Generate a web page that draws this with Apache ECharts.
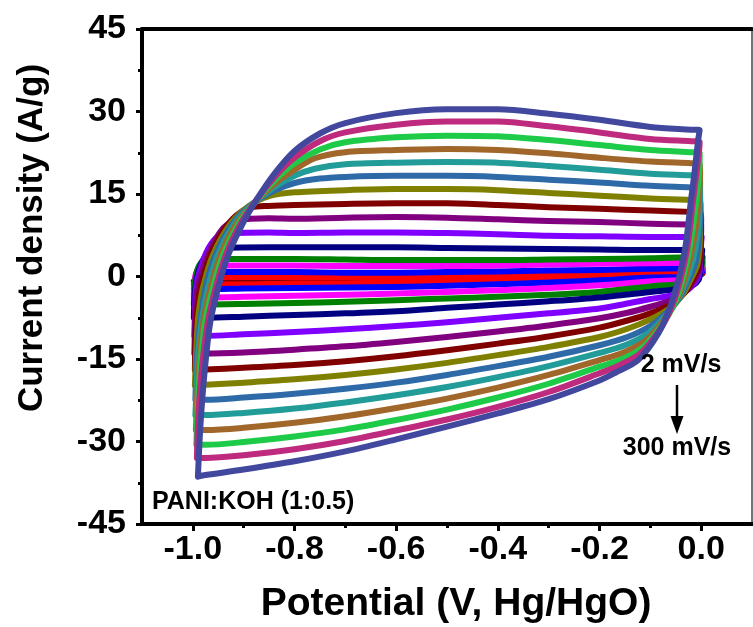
<!DOCTYPE html>
<html><head><meta charset="utf-8">
<script src="https://cdn.jsdelivr.net/npm/echarts@6/dist/echarts.min.js"></script>
<style>html,body{margin:0;padding:0;background:#fff}#c{width:753px;height:627px}</style>
</head><body><div id="c"></div>
<script>
// scan rates (mV/s), inner loop first
const scanRates = [2,5,10,20,30,50,75,100,125,150,175,200,225,250,275,300];
const xTicks = [-1.0,-0.8,-0.6,-0.4,-0.2,0.0];
const xMinorTicks = [-0.9,-0.7,-0.5,-0.3,-0.1];
const yTicks = [-45,-30,-15,0,15,30,45];

// each loop: [potential V, current density A/g]; anodic sweep then cathodic sweep
const loop2 = [[-0.998,-0.9],[-0.99,-0.6],[-0.9,-0.5],[-0.8,-0.5],[-0.7,-0.6],[-0.6,-0.6],[-0.5,-0.5],[-0.4,-0.3],[-0.3,0.0],[-0.2,0.2],[-0.1,0.4],[-0.02,0.6],[0.003,0.6],
  [0.0,0.4],[-0.1,0.3],[-0.2,0.0],[-0.3,-0.2],[-0.4,-0.4],[-0.5,-0.6],[-0.6,-0.7],[-0.7,-0.8],[-0.8,-0.8],[-0.9,-0.9],[-0.998,-0.9]];
const loop5 = [[-0.998,-1.4],[-0.995,-0.6],[-0.985,-0.2],[-0.9,-0.2],[-0.8,-0.2],[-0.7,-0.2],[-0.6,-0.2],[-0.5,-0.1],[-0.4,0.0],[-0.3,0.3],[-0.2,0.5],[-0.1,0.7],[-0.02,0.9],[0.003,0.9],
  [0.002,0.5],[-0.01,0.2],[-0.1,0.2],[-0.2,-0.2],[-0.3,-0.5],[-0.4,-0.8],[-0.5,-1.0],[-0.6,-1.2],[-0.7,-1.3],[-0.8,-1.3],[-0.9,-1.4],[-0.998,-1.4]];
const loop10 = [[-0.998,-2.3],[-0.996,-0.8],[-0.99,0.4],[-0.97,0.8],[-0.9,0.8],[-0.8,0.8],[-0.7,0.7],[-0.6,0.7],[-0.5,0.8],[-0.4,0.9],[-0.3,1.1],[-0.2,1.2],[-0.1,1.4],[-0.02,1.5],[0.003,1.5],
  [0.002,0.9],[-0.004,0.2],[-0.015,-0.1],[-0.1,-0.2],[-0.2,-0.7],[-0.3,-1.1],[-0.4,-1.4],[-0.5,-1.7],[-0.6,-1.9],[-0.7,-2.0],[-0.8,-2.1],[-0.9,-2.2],[-0.975,-2.3],[-0.998,-2.3]];
const loop20 = [[-0.998,-3.8],[-0.997,-1.5],[-0.994,0.5],[-0.985,1.6],[-0.96,2.0],[-0.9,2.0],[-0.8,2.0],[-0.7,1.9],[-0.6,1.9],[-0.5,1.9],[-0.4,2.0],[-0.3,2.2],[-0.2,2.3],[-0.1,2.4],[-0.02,2.5],[0.003,2.5],
  [0.002,1.6],[-0.002,0.6],[-0.008,-0.2],[-0.03,-0.6],[-0.1,-0.9],[-0.2,-1.6],[-0.3,-2.1],[-0.4,-2.5],[-0.5,-2.8],[-0.6,-3.1],[-0.7,-3.3],[-0.8,-3.5],[-0.9,-3.7],[-0.975,-3.8],[-0.998,-3.8]];
const loop30 = [[-0.998,-5.1],[-0.997,-2.5],[-0.995,-0.5],[-0.99,1.5],[-0.98,2.8],[-0.96,3.2],[-0.9,3.2],[-0.8,3.2],[-0.7,3.1],[-0.6,3.0],[-0.5,3.0],[-0.4,3.0],[-0.3,3.1],[-0.2,3.2],[-0.1,3.3],[-0.02,3.5],[0.003,3.5],
  [0.002,2.5],[0.0,1.2],[-0.004,0.0],[-0.01,-0.8],[-0.03,-1.3],[-0.1,-1.8],[-0.2,-2.8],[-0.3,-3.3],[-0.4,-3.7],[-0.5,-4.0],[-0.6,-4.3],[-0.7,-4.6],[-0.8,-4.8],[-0.9,-5.0],[-0.975,-5.1],[-0.998,-5.1]];
const loop50 = [[-0.998,-7.5],[-0.997,-4.5],[-0.995,-2.0],[-0.99,0.5],[-0.98,3.0],[-0.965,4.6],[-0.94,5.2],[-0.85,5.3],[-0.7,5.3],[-0.6,5.3],[-0.5,5.2],[-0.4,5.1],[-0.3,5.0],[-0.2,4.9],[-0.1,4.8],[-0.02,4.8],[0.002,4.8],
  [0.001,3.8],[0.0,2.2],[-0.002,0.6],[-0.005,-0.6],[-0.015,-1.5],[-0.04,-2.2],[-0.1,-2.8],[-0.2,-3.8],[-0.3,-4.5],[-0.4,-5.1],[-0.5,-5.7],[-0.6,-6.3],[-0.7,-6.7],[-0.8,-7.0],[-0.9,-7.3],[-0.975,-7.5],[-0.998,-7.5]];
const loop75 = [[-0.997,-10.8],[-0.996,-7.0],[-0.995,-4.0],[-0.993,-1.5],[-0.985,1.5],[-0.97,5.0],[-0.95,7.3],[-0.92,7.9],[-0.85,8.0],[-0.8,7.9],[-0.7,8.0],[-0.6,8.0],[-0.5,7.9],[-0.4,7.7],[-0.3,7.4],[-0.2,7.3],[-0.1,7.2],[-0.02,7.2],[0.001,7.2],
  [0.0,6.2],[-0.001,4.0],[-0.002,2.0],[-0.004,0.4],[-0.01,-0.8],[-0.025,-2.3],[-0.05,-3.3],[-0.1,-4.1],[-0.15,-5.0],[-0.2,-5.8],[-0.3,-6.7],[-0.4,-7.5],[-0.5,-8.3],[-0.6,-9.0],[-0.7,-9.6],[-0.8,-10.1],[-0.9,-10.5],[-0.975,-10.8],[-0.997,-10.8]];
const loop100 = [[-0.997,-14.0],[-0.996,-10.0],[-0.995,-6.0],[-0.992,-3.0],[-0.988,-1.0],[-0.97,4.0],[-0.94,8.8],[-0.91,10.3],[-0.85,10.6],[-0.8,10.5],[-0.7,10.7],[-0.6,10.8],[-0.5,10.7],[-0.4,10.4],[-0.3,10.1],[-0.2,9.9],[-0.1,9.6],[-0.02,9.45],[0.0,9.4],
  [0.0,8.5],[-0.001,6.0],[-0.002,3.5],[-0.005,1.0],[-0.013,-0.6],[-0.03,-2.7],[-0.055,-4.2],[-0.1,-5.5],[-0.145,-6.6],[-0.2,-7.6],[-0.3,-8.9],[-0.4,-10.0],[-0.5,-11.0],[-0.6,-11.9],[-0.7,-12.7],[-0.8,-13.3],[-0.9,-13.8],[-0.975,-14.0],[-0.997,-14.0]];
const loop125 = [[-0.996,-17.0],[-0.995,-12.0],[-0.993,-8.0],[-0.99,-5.0],[-0.985,-2.0],[-0.965,4.0],[-0.93,9.6],[-0.895,12.3],[-0.86,12.8],[-0.8,13.0],[-0.7,13.2],[-0.6,13.3],[-0.5,13.3],[-0.4,13.0],[-0.3,12.6],[-0.2,12.3],[-0.1,12.0],[-0.02,11.75],[-0.001,11.7],
  [0.0,10.5],[-0.001,7.5],[-0.002,4.5],[-0.006,1.5],[-0.017,-0.6],[-0.034,-3.1],[-0.058,-5.0],[-0.1,-6.7],[-0.145,-8.0],[-0.2,-9.3],[-0.3,-10.9],[-0.4,-12.2],[-0.5,-13.4],[-0.6,-14.5],[-0.7,-15.4],[-0.8,-16.1],[-0.9,-16.6],[-0.975,-16.9],[-0.996,-17.0]];
const loop150 = [[-0.996,-19.8],[-0.994,-15.0],[-0.992,-11.0],[-0.989,-7.0],[-0.98,-2.0],[-0.96,4.0],[-0.926,9.6],[-0.89,12.8],[-0.85,14.6],[-0.8,15.3],[-0.7,15.7],[-0.6,15.9],[-0.5,15.9],[-0.4,15.7],[-0.3,15.2],[-0.2,14.7],[-0.1,14.2],[-0.02,13.95],[-0.002,13.9],
  [-0.001,12.5],[-0.002,9.0],[-0.003,5.5],[-0.008,2.0],[-0.021,-0.6],[-0.038,-3.5],[-0.062,-5.8],[-0.1,-7.8],[-0.145,-9.5],[-0.2,-11.0],[-0.3,-12.8],[-0.4,-14.3],[-0.5,-15.7],[-0.6,-16.9],[-0.7,-17.9],[-0.8,-18.7],[-0.9,-19.3],[-0.975,-19.7],[-0.996,-19.8]];
const loop175 = [[-0.995,-22.4],[-0.993,-17.0],[-0.99,-12.5],[-0.986,-8.5],[-0.975,-2.0],[-0.955,4.0],[-0.922,9.6],[-0.888,12.8],[-0.84,15.6],[-0.8,17.0],[-0.75,17.8],[-0.7,18.1],[-0.6,18.3],[-0.5,18.3],[-0.4,18.1],[-0.3,17.6],[-0.2,17.1],[-0.1,16.5],[-0.02,16.2],[-0.003,16.1],
  [-0.002,15.0],[-0.002,11.0],[-0.004,7.0],[-0.011,2.5],[-0.025,-0.6],[-0.042,-3.8],[-0.066,-6.4],[-0.1,-9.0],[-0.145,-11.0],[-0.2,-12.5],[-0.3,-14.6],[-0.4,-16.3],[-0.5,-17.9],[-0.6,-19.3],[-0.7,-20.4],[-0.8,-21.3],[-0.9,-22.0],[-0.975,-22.4],[-0.995,-22.4]];
const loop200 = [[-0.995,-25.2],[-0.992,-19.0],[-0.989,-14.0],[-0.983,-8.5],[-0.97,-2.0],[-0.95,4.0],[-0.918,9.6],[-0.885,12.9],[-0.84,16.2],[-0.8,18.3],[-0.76,19.6],[-0.7,20.4],[-0.6,20.7],[-0.5,20.8],[-0.4,20.7],[-0.3,20.1],[-0.2,19.4],[-0.1,18.7],[-0.02,18.4],[-0.003,18.3],
  [-0.002,17.0],[-0.003,13.0],[-0.006,8.5],[-0.015,3.5],[-0.029,-0.6],[-0.046,-4.2],[-0.07,-7.2],[-0.105,-10.4],[-0.15,-12.5],[-0.2,-13.9],[-0.3,-16.3],[-0.4,-18.3],[-0.5,-20.1],[-0.6,-21.6],[-0.7,-22.9],[-0.8,-24.0],[-0.9,-24.8],[-0.975,-25.2],[-0.995,-25.2]];
const loop225 = [[-0.994,-27.9],[-0.991,-21.0],[-0.987,-15.0],[-0.98,-8.5],[-0.965,-2.0],[-0.945,4.0],[-0.914,9.6],[-0.883,13.0],[-0.84,16.8],[-0.8,19.4],[-0.76,21.5],[-0.7,22.6],[-0.6,23.0],[-0.5,23.2],[-0.4,23.0],[-0.3,22.4],[-0.2,21.6],[-0.1,20.9],[-0.02,20.6],[-0.003,20.5],
  [-0.002,19.0],[-0.004,15.0],[-0.009,10.0],[-0.019,4.5],[-0.033,-0.6],[-0.05,-4.6],[-0.074,-8.0],[-0.11,-11.7],[-0.155,-13.9],[-0.2,-15.2],[-0.3,-17.9],[-0.4,-20.2],[-0.5,-22.2],[-0.6,-23.9],[-0.7,-25.4],[-0.8,-26.6],[-0.9,-27.5],[-0.975,-27.9],[-0.994,-27.9]];
const loop250 = [[-0.993,-30.6],[-0.99,-23.0],[-0.985,-16.0],[-0.976,-8.5],[-0.96,-2.0],[-0.94,4.0],[-0.91,9.6],[-0.881,13.2],[-0.84,17.4],[-0.8,20.6],[-0.75,23.1],[-0.7,24.4],[-0.6,25.3],[-0.5,25.6],[-0.4,25.5],[-0.3,24.8],[-0.2,23.9],[-0.1,23.0],[-0.02,22.6],[-0.003,22.5],
  [-0.003,21.0],[-0.006,17.0],[-0.012,12.0],[-0.023,5.0],[-0.037,-0.6],[-0.053,-5.0],[-0.077,-8.8],[-0.115,-12.9],[-0.16,-15.2],[-0.2,-16.4],[-0.3,-19.5],[-0.4,-22.0],[-0.5,-24.2],[-0.6,-26.1],[-0.7,-27.8],[-0.8,-29.1],[-0.9,-30.1],[-0.975,-30.6],[-0.993,-30.6]];
const loop275 = [[-0.992,-33.0],[-0.989,-25.0],[-0.982,-16.5],[-0.971,-8.5],[-0.955,-2.0],[-0.935,4.0],[-0.906,9.6],[-0.879,13.4],[-0.84,18.0],[-0.8,21.6],[-0.75,24.6],[-0.7,26.2],[-0.6,27.6],[-0.5,28.2],[-0.4,28.2],[-0.3,27.3],[-0.2,26.2],[-0.1,25.0],[-0.02,24.6],[-0.003,24.5],
  [-0.004,23.0],[-0.009,19.0],[-0.016,13.9],[-0.027,5.4],[-0.041,-0.6],[-0.057,-5.3],[-0.08,-9.5],[-0.12,-14.0],[-0.165,-16.3],[-0.2,-17.6],[-0.3,-21.0],[-0.4,-23.7],[-0.5,-26.0],[-0.6,-28.0],[-0.7,-29.9],[-0.8,-31.4],[-0.9,-32.5],[-0.975,-33.0],[-0.992,-33.0]];
const loop300 = [[-0.99,-36.4],[-0.985,-27.0],[-0.977,-17.5],[-0.966,-8.5],[-0.95,-2.0],[-0.93,4.0],[-0.902,9.6],[-0.877,13.6],[-0.84,18.6],[-0.8,22.8],[-0.75,26.0],[-0.7,27.9],[-0.6,29.7],[-0.5,30.4],[-0.4,30.4],[-0.3,29.6],[-0.2,28.5],[-0.1,27.2],[-0.02,26.7],[-0.003,26.6],
  [-0.006,24.8],[-0.013,19.0],[-0.02,13.9],[-0.031,5.4],[-0.045,-0.6],[-0.061,-5.5],[-0.084,-10.3],[-0.124,-15.2],[-0.169,-17.5],[-0.2,-18.9],[-0.3,-22.3],[-0.4,-24.9],[-0.5,-27.3],[-0.6,-29.6],[-0.7,-31.8],[-0.8,-33.6],[-0.9,-35.1],[-0.975,-36.1],[-0.99,-36.4]];

const loops = [loop2,loop5,loop10,loop20,loop30,loop50,loop75,loop100,loop125,loop150,loop175,loop200,loop225,loop250,loop275,loop300];
const colors = ['#000000','#ff0000','#0000ff','#ff00ff','#008000','#000080','#8000ff','#800080','#800000','#808000',
                '#2f6aa8','#219c98','#a0662a','#1ecb48','#be2a7e','#41489e'];

const FF = '"Liberation Sans", Arial, sans-serif';
const chart = echarts.init(document.getElementById('c'), null, {renderer:'canvas'});
const series = loops.map((d,i)=>({
  type:'line', name: scanRates[i]+' mV/s', data:d, xAxisIndex:0, yAxisIndex:0,
  showSymbol:false, symbol:'none', smooth:0.3, animation:false,
  lineStyle:{width:6, color:colors[i], cap:'round', join:'round'}
}));
chart.setOption({
  animation:false,
  grid:{left:142, top:29, width:610, height:495, containLabel:false},
  xAxis:[
    {type:'value', min:-1.1, max:0.1, position:'bottom',
     axisLine:{show:true, onZero:false, lineStyle:{color:'#000', width:4}},
     axisTick:{show:true, customValues:xTicks, length:7, lineStyle:{color:'#000', width:3}},
     axisLabel:{show:true, customValues:xTicks, formatter:v=>Number(v).toFixed(1), fontSize:34, fontWeight:'bold', fontFamily:FF, color:'#000', margin:9},
     splitLine:{show:false}},
    {type:'value', min:-1.1, max:0.1, position:'bottom',
     axisLine:{show:false, onZero:false},
     axisTick:{show:true, customValues:xMinorTicks, length:4, lineStyle:{color:'#000', width:3}},
     axisLabel:{show:false}, splitLine:{show:false}},
    {type:'value', min:-1.1, max:0.1, position:'top',
     axisLine:{show:true, onZero:false, lineStyle:{color:'#000', width:4}},
     axisTick:{show:false}, axisLabel:{show:false}, splitLine:{show:false}}
  ],
  yAxis:[
    {type:'value', min:-45, max:45, interval:15, position:'left',
     axisLine:{show:true, onZero:false, lineStyle:{color:'#000', width:4}},
     axisTick:{show:true, length:6, lineStyle:{color:'#000', width:3}},
     minorTick:{show:true, splitNumber:2, length:4, lineStyle:{color:'#000', width:3}},
     axisLabel:{fontSize:34, fontWeight:'bold', fontFamily:FF, color:'#000', margin:16},
     splitLine:{show:false}, minorSplitLine:{show:false}},
    {type:'value', min:-45, max:45, position:'right',
     axisLine:{show:true, onZero:false, lineStyle:{color:'#444', width:1.5}},
     axisTick:{show:false}, axisLabel:{show:false}, splitLine:{show:false}}
  ],
  series: series,
  graphic:[
    {type:'text', x:32, y:238, rotation:Math.PI/2, z:10,
     style:{text:'Current density (A/g)', font:'bold 35px '+FF, fill:'#000', align:'center', verticalAlign:'middle'}},
    {type:'text', x:456, y:604, z:10,
     style:{text:'Potential (V, Hg/HgO)', font:'bold 39px '+FF, fill:'#000', align:'center', verticalAlign:'middle'}},
    {type:'text', x:152, y:502, z:10,
     style:{text:'PANI:KOH (1:0.5)', font:'bold 25px '+FF, fill:'#000', align:'left', verticalAlign:'middle'}},
    {type:'text', x:681, y:365, z:10,
     style:{text:'2 mV/s', font:'bold 25px '+FF, fill:'#000', align:'center', verticalAlign:'middle'}},
    {type:'text', x:677, y:448, z:10,
     style:{text:'300 mV/s', font:'bold 25px '+FF, fill:'#000', align:'center', verticalAlign:'middle'}},
    {type:'line', z:10, shape:{x1:677, y1:385, x2:677, y2:420}, style:{stroke:'#000', lineWidth:2.5}},
    {type:'polygon', z:10, shape:{points:[[670.5,416],[683.5,416],[677,434]]}, style:{fill:'#000'}}
  ]
});
</script></body></html>
